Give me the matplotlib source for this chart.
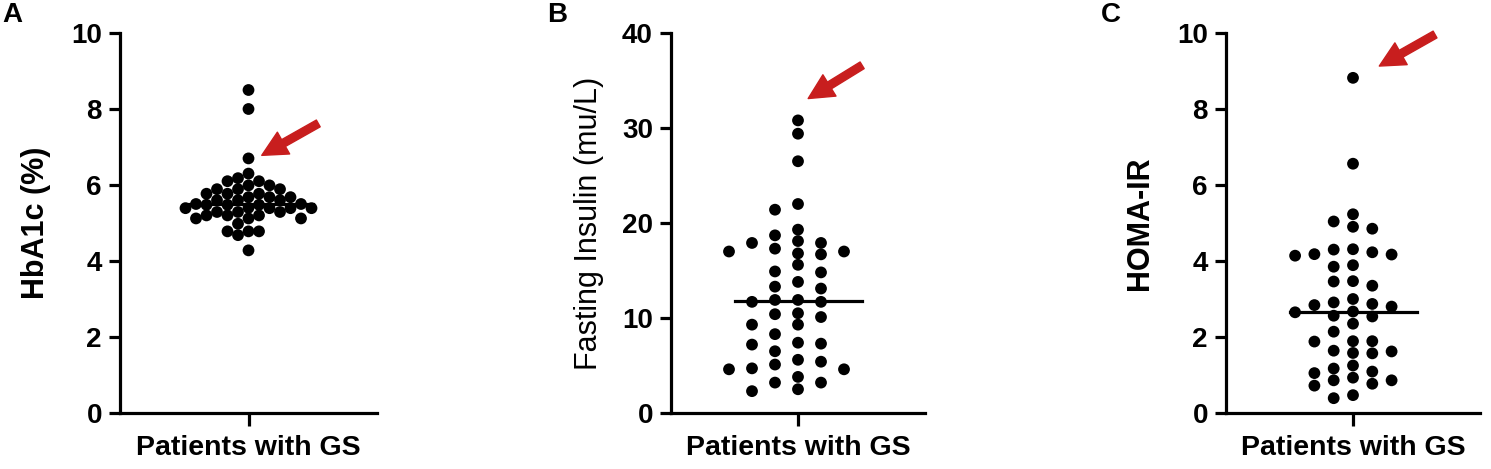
import numpy as np
import matplotlib
matplotlib.use("Agg")
import matplotlib.pyplot as plt

plt.rcParams["font.family"] = ["Liberation Sans", "DejaVu Sans"]

# ---------- data ----------
group = "Patients with GS"

hba1c = [8.5, 8.0, 6.7,
         6.30, 6.18, 6.10, 6.10, 5.99, 5.99, 5.89, 5.89, 5.89,
         5.77, 5.77, 5.77, 5.68, 5.68, 5.68, 5.60, 5.60, 5.60,
         5.48, 5.48, 5.48, 5.50, 5.50, 5.40, 5.39, 5.39, 5.39, 5.39,
         5.29, 5.29, 5.29, 5.20, 5.20, 5.20, 5.12, 5.12, 5.12,
         4.98, 4.78, 4.78, 4.78, 4.68, 4.28]

insulin = [30.8, 29.4, 26.5,
           18.1, 16.8, 10.1, 5.1,
           17.9, 11.7, 9.3, 7.4, 5.4, 3.8, 2.3,
           21.4, 19.3, 17.9, 16.7, 14.9, 13.8, 11.7, 9.3, 7.3, 4.7, 3.2,
           22.0, 17.3, 14.8, 13.1, 11.9, 8.3, 6.5, 4.6, 2.5,
           18.7, 17.0, 15.6, 13.3, 11.9, 10.5, 7.2, 4.6, 3.2,
           17.0, 10.4, 5.6]

homa = [8.82, 6.56,
        2.87,
        4.14, 2.80, 1.62, 1.25, 0.93,
        5.23, 4.90, 4.30, 3.85, 3.46, 2.67, 2.35, 1.88, 1.57, 1.05, 0.72, 0.39,
        4.85, 4.18, 3.35, 3.00, 2.65, 1.89, 1.58, 0.86,
        5.04, 4.23, 3.89, 3.47, 2.54, 2.14, 1.64, 1.17, 0.86, 0.47,
        4.17, 2.91, 2.56, 1.89, 1.09, 0.77,
        4.31, 2.84]

panels = [
    dict(letter="A", vals=hba1c, ylabel="HbA1c (%)", ymax=10, step=2, bold=True,
         cs=10.5, rh=10.5, lab_dx=-69, arrow=((0.543, 7.62), (0.103, 6.78))),
    dict(letter="B", vals=insulin, ylabel="Fasting Insulin (mu/L)", ymax=40, step=10, bold=False,
         cs=23.0, rh=11.0, lab_dx=-67, arrow=((0.505, 36.6), (0.08, 33.1))),
    dict(letter="C", vals=homa, ylabel="HOMA-IR", ymax=10, step=2, bold=True,
         cs=19.3, rh=11.0, lab_dx=-71, arrow=((0.646, 9.96), (0.207, 9.13))),
]

W, H, DPI = 1491, 469, 100
# axes boxes in pixels: left, width ; y from 33 (top) to 413 (zero)
boxes = [(120, 257), (671, 254), (1226, 254)]
letter_x = [2, 547, 1101]
RED = "#c81e1e"


def swarm(ax, vals, cs, rh):
    """Prism-style column scatter: greedy placement on half-column grid."""
    vals = np.asarray(vals, float)
    ypx = ax.transData.transform(np.c_[np.zeros_like(vals), vals])[:, 1]
    axw = ax.get_window_extent().width
    order = np.argsort(-vals, kind="stable")
    xs = np.zeros_like(vals)
    placed = []
    cand = [0]
    for k in range(1, 30):
        cand += [-k, k]
    for i in order:
        y = ypx[i]
        for k in cand:
            x = k * cs / 2
            if all(not (abs(x - px) < cs - 1e-6 and abs(y - py) < rh) for px, py in placed):
                break
        placed.append((x, y))
        xs[i] = x / axw * 2.0
    return xs


fig = plt.figure(figsize=(W / DPI, H / DPI), dpi=DPI)

for p, (left, width), lx in zip(panels, boxes, letter_x):
    ax = fig.add_axes([left / W, (H - 413) / H, width / W, 380 / H])
    ax.set_xlim(-1, 1)
    ax.set_ylim(0, p["ymax"])
    for s in ("top", "right"):
        ax.spines[s].set_visible(False)
    for s in ("left", "bottom"):
        ax.spines[s].set_linewidth(2.3)
    ax.set_yticks(np.arange(0, p["ymax"] + 0.1, p["step"]))
    ax.set_xticks([0])
    ax.set_xticklabels([group])
    ax.tick_params(axis="y", length=8, width=2.3, pad=5, labelsize=20)
    ax.tick_params(axis="x", length=9.5, width=2.3, pad=6, labelsize=20.5)
    for t in ax.get_yticklabels() + ax.get_xticklabels():
        t.set_fontweight("bold")

    xs = swarm(ax, p["vals"], p["cs"], p["rh"])
    ax.scatter(xs, p["vals"], s=72, color="black", edgecolors="none", zorder=2, clip_on=False)
    med = np.median(p["vals"])
    ax.plot([-0.5, 0.5], [med, med], color="black", lw=2.3, zorder=3)

    ax.set_ylabel(p["ylabel"], fontsize=22, fontweight="bold" if p["bold"] else "normal")
    ax.yaxis.set_label_coords(p["lab_dx"] / width, 0.5)

    tail, head = p["arrow"]
    ax.annotate("", xy=head, xytext=tail, annotation_clip=False,
                arrowprops=dict(arrowstyle="simple,head_length=0.9,head_width=0.9,tail_width=0.28",
                                color=RED, mutation_scale=20, shrinkA=0, shrinkB=0))

    fig.text(lx / W, 1 - 2 / H, p["letter"], fontsize=20, fontweight="bold", va="top", ha="left")

fig.savefig("out.png", dpi=DPI)
